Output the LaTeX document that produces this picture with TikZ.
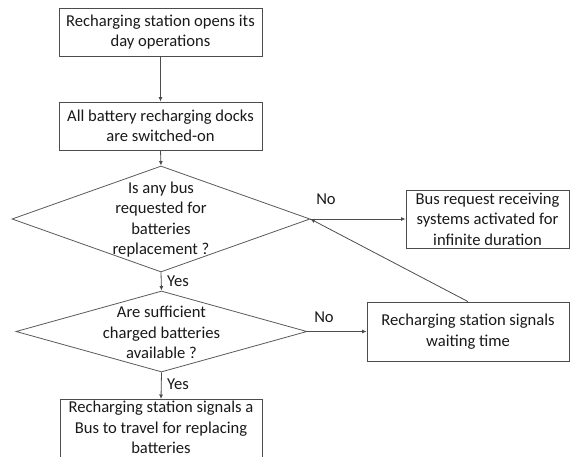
\documentclass[tikz,border=0pt]{standalone}
\usepackage{fontspec}
\setmainfont{Carlito}
\usetikzlibrary{shapes.geometric,arrows.meta}
\begin{document}
\begin{tikzpicture}[x=1pt,y=-1pt,
  every node/.style={font=\fontsize{16.6}{20.5}\selectfont, text=black!90},
  procbox/.style={draw=black!70, line width=0.8pt, rectangle, inner sep=0pt,
    align=center},
  decision/.style={draw=black!65, line width=0.8pt, diamond, inner sep=0pt},
  flow/.style={draw=black!70, line width=0.8pt,
    -{Latex[length=4.5pt,width=4pt]}},
  lbl/.style={inner sep=0pt}]
\useasboundingbox (0,0) rectangle (571,456);
\clip (0,0) rectangle (571,456);

% process steps
\node[procbox, minimum width=203pt, minimum height=48pt] (open) at (160.5,32)
  {Recharging station opens its\\day operations};
\node[procbox, minimum width=203pt, minimum height=48pt] (docks) at (160.5,126)
  {All battery recharging docks\\are switched-on};

% first decision
\node[decision, minimum width=298pt, minimum height=106pt] (ask) at (161,219) {};
\node[align=center, inner sep=0pt] (asktext) at (161,219.5)
  {Is any bus\\requested for\\batteries\\replacement ?};

% second decision
\node[decision, minimum width=291pt, minimum height=81pt] (avail) at (161.5,331.5) {};
\node[align=center, inner sep=0pt] (availtext) at (161.5,332.5)
  {Are sufficient\\charged batteries\\available ?};

% outcome boxes
\node[procbox, minimum width=163pt, minimum height=58pt] (listen) at (487.5,219)
  {Bus request receiving\\systems activated for\\infinite duration};
\node[procbox, minimum width=202pt, minimum height=59pt] (wait) at (468,331.5)
  {Recharging station signals\\waiting time};
\node[procbox, minimum width=202pt, minimum height=60pt, anchor=north] (go) at (161,399) {};
\node[align=center, inner sep=0pt] (gotext) at (161,427.5)
  {Recharging station signals a\\Bus to travel for replacing\\batteries};

% connectors
\draw[flow] (open.south) -- (docks.north);
\draw[flow] (docks.south) -- (ask.north);
\draw[flow] (ask.east) -- (listen.west);
\draw[flow] (ask.south) -- (avail.north);
\draw[flow] (avail.east) -- (wait.west);
\draw[flow] (avail.south) -- (go.north);
\draw[flow] (wait.north) -- (ask.east);

% branch labels
\node[lbl] (no1) at (326,199) {No};
\node[lbl] (yes1) at (178,281) {Yes};
\node[lbl] (no2) at (324,317) {No};
\node[lbl] (yes2) at (178,384) {Yes};
\end{tikzpicture}
\end{document}
